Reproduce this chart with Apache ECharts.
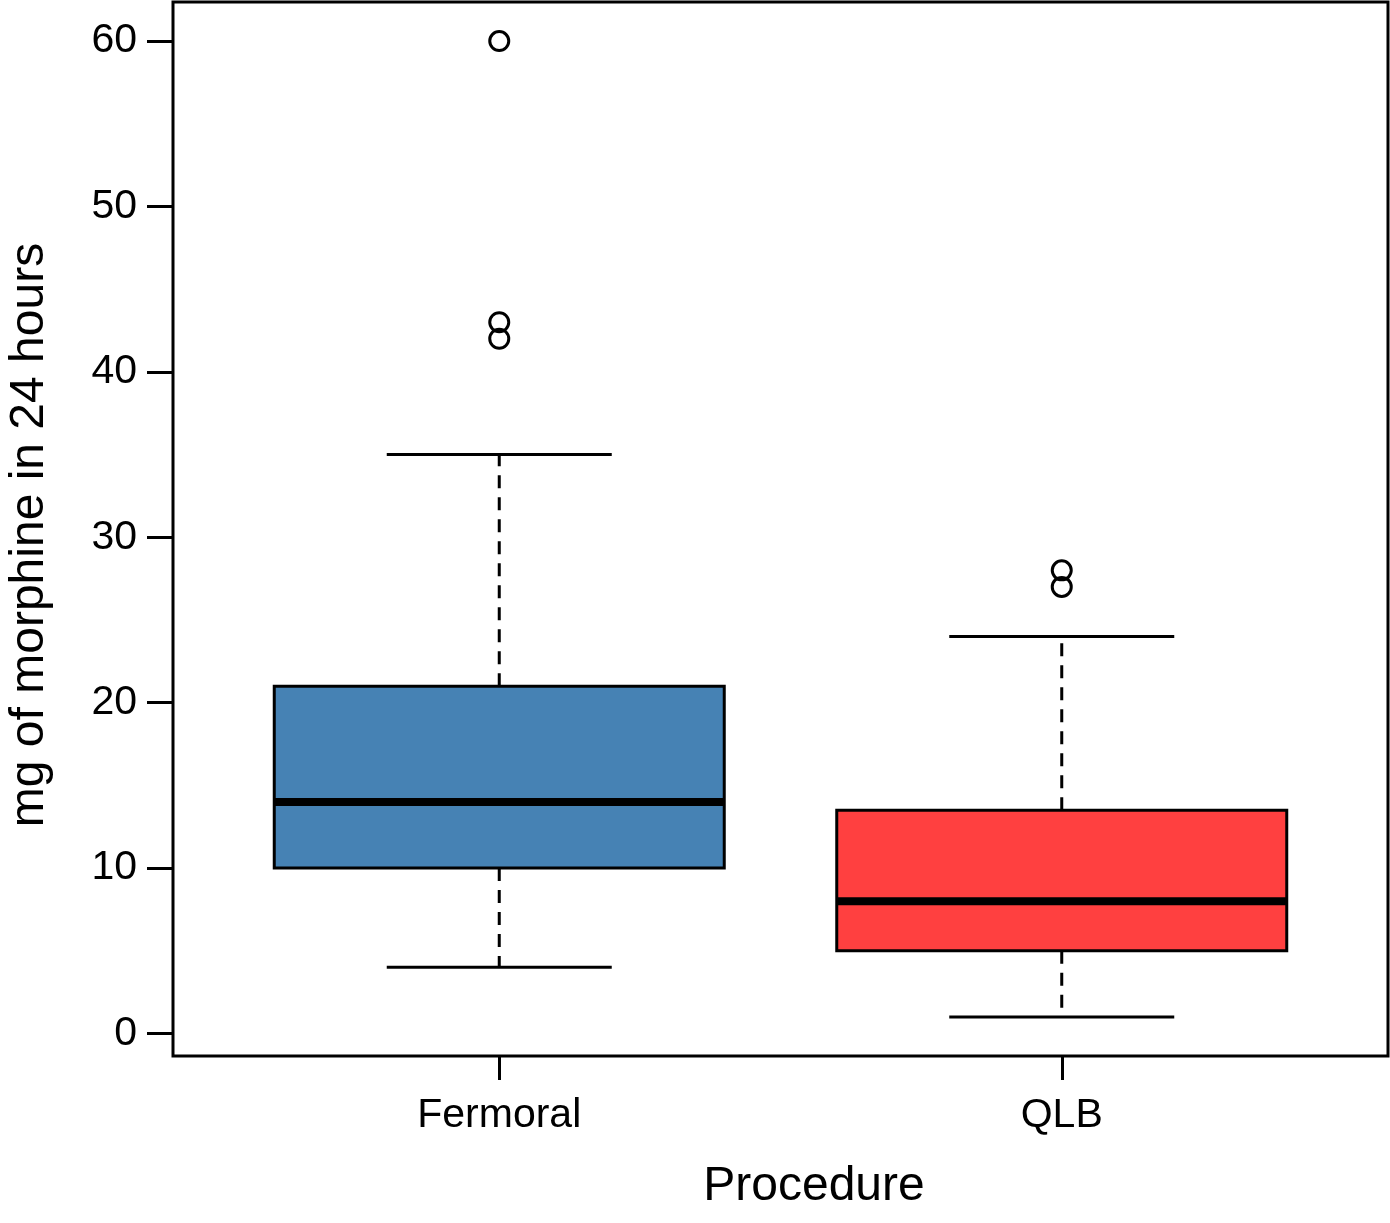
<!DOCTYPE html>
<html>
<head>
<meta charset="utf-8">
<script src="https://cdn.jsdelivr.net/npm/echarts@6/dist/echarts.min.js"></script>
<style>
html,body{margin:0;padding:0;background:#fff;}
#chart{width:1390px;height:1223px;}
</style>
</head>
<body>
<div id="chart"></div>
<script>
// ---- data ----
const categories = ['Fermoral', 'QLB'];
const whiskerLow = [4, 1];
const quartile1 = [10, 5];
const medians = [14, 8];
const quartile3 = [21, 13.5];
const whiskerHigh = [35, 24];
const outliers = [[60, 43, 42], [28, 27]];
const yTicks = [0, 10, 20, 30, 40, 50, 60];
const xPositions = [1, 2];

// ---- style ----
const boxColors = ['#4682B4', '#FF4040'];
const FONT = '"Liberation Sans", Arial, Helvetica, sans-serif';

const boxData = categories.map((c, i) => [xPositions[i], whiskerLow[i], quartile1[i], medians[i], quartile3[i], whiskerHigh[i], i]);
const outlierData = [];
outliers.forEach((arr, i) => arr.forEach(v => outlierData.push([xPositions[i], v])));

const chart = echarts.init(document.getElementById('chart'), null, {renderer: 'canvas'});

function renderBox(params, api) {
  const x = api.value(0);
  const lo = api.value(1), q1 = api.value(2), med = api.value(3), q3 = api.value(4), hi = api.value(5);
  const idx = api.value(6);
  const halfBox = api.size([0.4, 0])[0];
  const halfCap = api.size([0.2, 0])[0];
  const pLo = api.coord([x, lo]);
  const pQ1 = api.coord([x, q1]);
  const pMed = api.coord([x, med]);
  const pQ3 = api.coord([x, q3]);
  const pHi = api.coord([x, hi]);
  const cx = pLo[0];
  const lineStyle = {stroke: '#000', lineWidth: 3, fill: null};
  const dashStyle = {stroke: '#000', lineWidth: 3, lineDash: [13, 9], fill: null};
  return {
    type: 'group',
    children: [
      {type: 'line', shape: {x1: cx, y1: pQ3[1], x2: cx, y2: pHi[1]}, style: dashStyle},
      {type: 'line', shape: {x1: cx, y1: pQ1[1], x2: cx, y2: pLo[1]}, style: dashStyle},
      {type: 'line', shape: {x1: cx - halfCap, y1: pHi[1], x2: cx + halfCap, y2: pHi[1]}, style: lineStyle},
      {type: 'line', shape: {x1: cx - halfCap, y1: pLo[1], x2: cx + halfCap, y2: pLo[1]}, style: lineStyle},
      {type: 'rect', shape: {x: cx - halfBox, y: pQ3[1], width: 2 * halfBox, height: pQ1[1] - pQ3[1]},
        style: {fill: boxColors[idx], stroke: '#000', lineWidth: 3}},
      {type: 'line', shape: {x1: cx - halfBox, y1: pMed[1], x2: cx + halfBox, y2: pMed[1]},
        style: {stroke: '#000', lineWidth: 8}}
    ]
  };
}

const option = {
  backgroundColor: '#fff',
  animation: false,
  grid: {
    left: 173, right: 2, top: 2, bottom: 167,
    show: true, borderColor: '#000', borderWidth: 3, backgroundColor: 'transparent'
  },
  xAxis: {
    type: 'value', min: 0.42, max: 2.58,
    splitLine: {show: false},
    axisLine: {show: false, onZero: false},
    axisTick: {show: true, length: 24, lineStyle: {color: '#000', width: 3}, customValues: xPositions},
    axisLabel: {
      show: true, margin: 39, color: '#000', fontSize: 41, fontFamily: FONT,
      customValues: xPositions,
      formatter: v => categories[xPositions.indexOf(Math.round(v))] || ''
    }
  },
  yAxis: {
    type: 'value', min: -1.36, max: 62.36,
    splitLine: {show: false},
    axisLine: {show: false, onZero: false},
    axisTick: {show: true, length: 26, lineStyle: {color: '#000', width: 3}, customValues: yTicks},
    axisLabel: {
      show: true, margin: 36, color: '#000', fontSize: 41, fontFamily: FONT,
      customValues: yTicks
    }
  },
  graphic: [
    {type: 'text', x: 814, y: 1187,
      style: {text: 'Procedure', fontSize: 48, fontFamily: FONT, fill: '#000', align: 'center', verticalAlign: 'middle'}},
    {type: 'text', x: 30, y: 535, rotation: Math.PI / 2,
      style: {text: 'mg of morphine in 24 hours', fontSize: 48, fontFamily: FONT, fill: '#000', align: 'center', verticalAlign: 'middle'}}
  ],
  series: [
    {
      type: 'custom',
      renderItem: renderBox,
      data: boxData,
      encode: {x: 0, y: [1, 5]},
      clip: false
    },
    {
      type: 'scatter',
      data: outlierData,
      symbol: 'circle',
      symbolSize: 19,
      itemStyle: {color: 'transparent', borderColor: '#000', borderWidth: 3, opacity: 1},
      z: 5
    }
  ]
};
chart.setOption(option);
</script>
</body>
</html>
